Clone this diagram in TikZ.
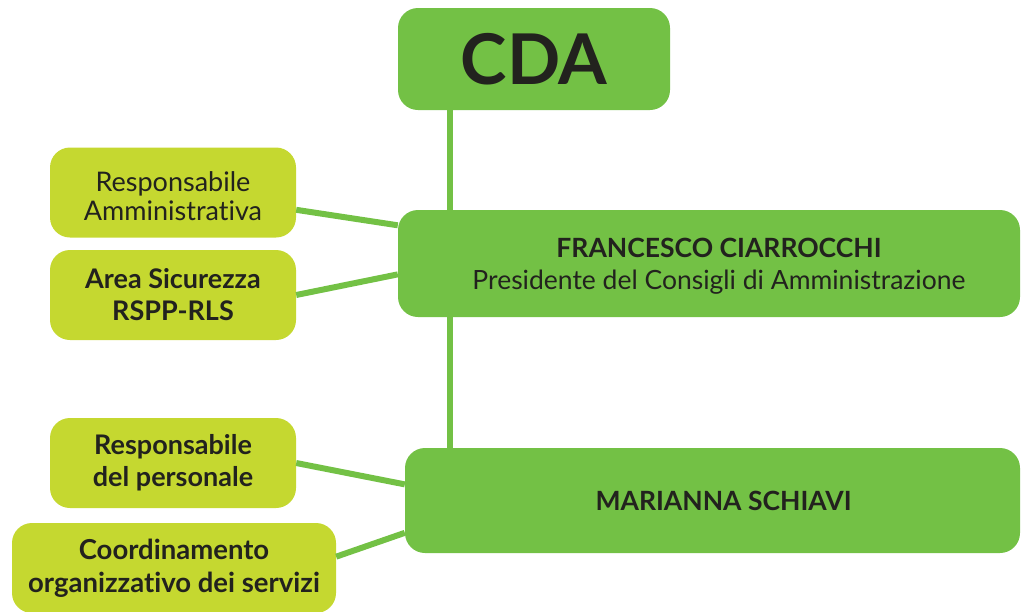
\documentclass[tikz,border=0pt]{standalone}
\usepackage{fontspec}
\setmainfont[Ligatures=NoCommon]{Lato}
\usepackage{tikz}
\usetikzlibrary{positioning,calc}
\definecolor{cdagreen}{RGB}{115,193,69}
\definecolor{limegreen}{RGB}{197,216,48}
\definecolor{inkdark}{RGB}{34,34,30}
\tikzset{
    mainbox/.style={draw=none, fill=cdagreen, rounded corners=20pt, text=inkdark, align=center, inner sep=0pt},
    sidebox/.style={draw=none, fill=limegreen, rounded corners=20pt, text=inkdark, align=center, inner sep=0pt,
        minimum width=246pt, minimum height=90pt, font=\fontsize{27}{31}\selectfont},
    link/.style={draw=cdagreen, line width=6pt}
}

\begin{document}
\begin{tikzpicture}[x=1pt, y=1pt]
    \useasboundingbox (0,0) rectangle (1021,-611);

    \node[mainbox, minimum width=272pt, minimum height=102pt, font=\fontsize{70}{76}\selectfont\bfseries] (cda) at (534,-59) {CDA}; % top box
    \node[mainbox, minimum width=622pt, minimum height=107pt, font=\fontsize{26.5}{33}\selectfont] (pres) at (709,-263.5) {\hspace*{20pt}\raisebox{-3pt}[\height][\depth]{\begin{tabular}{@{}c@{}}\textbf{FRANCESCO CIARROCCHI}\\[-1pt]Presidente del Consigli di Amministrazione\end{tabular}}};
    \node[mainbox, minimum width=615pt, minimum height=105pt, font=\fontsize{26.5}{31}\selectfont\bfseries] (mar) at (712.5,-500.5) {\hspace*{22pt}MARIANNA SCHIAVI};

    \node[sidebox] (amm) at (173,-192.5) {\raisebox{-7pt}[\height][\depth]{\begin{tabular}{@{}c@{}}Responsabile\\[-2pt]Amministrativa\end{tabular}}};
    \node[sidebox, font=\fontsize{27}{32}\selectfont\bfseries] (sic) at (173,-295) {Area Sicurezza\\RSPP-RLS};
    \node[sidebox, font=\fontsize{27}{32}\selectfont\bfseries] (pers) at (173,-463) {Responsabile\\del personale};
    \node[sidebox, minimum width=324pt, font=\fontsize{27.5}{33}\selectfont\bfseries] (coord) at (174,-568) {Coordinamento\\organizzativo dei servizi};

    % vertical spine
    \coordinate (vx) at (450,0);
    \draw[link] (cda.south -| vx) -- (pres.north -| vx);
    \draw[link] (pres.south -| vx) -- (mar.north -| vx);

    % side links
    \draw[link] (amm.-8) -- (pres.173.5);
    \draw[link] (sic.east) -- (pres.182);
    \draw[link] (pers.east) -- (mar.177);
    \draw[link] (coord.4) -- (mar.186);
\end{tikzpicture}
\end{document}
